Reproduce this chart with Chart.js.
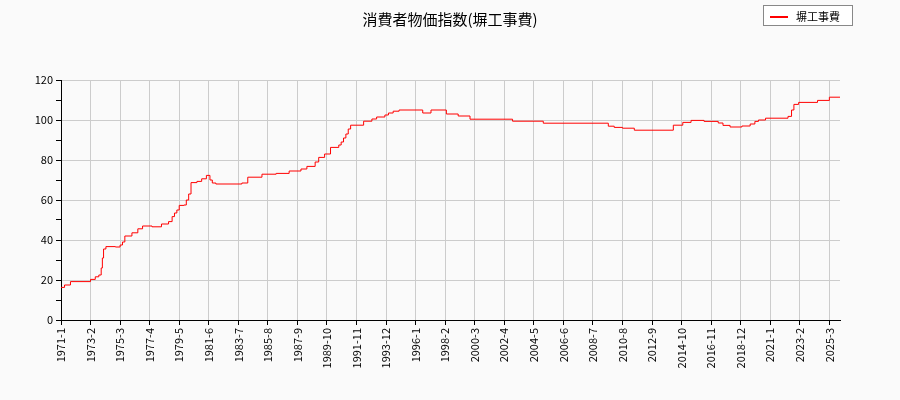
<!DOCTYPE html>
<html>
<head>
<meta charset="utf-8">
<script src="https://cdn.jsdelivr.net/npm/chart.js@4"></script>
<style>
body { margin: 0; background: #fafafa; font-family: "Noto Sans CJK JP", sans-serif; }
#wrap { position: relative; width: 900px; height: 400px; }
#title { position: absolute; top: 8px; left: 0; width: 900px; text-align: center; font-size: 15px; color: #000; }
#legend { position: absolute; top: 5px; left: 763px; width: 90px; height: 21px; border: 1px solid #888; background: #fff;
  font-size: 11px; line-height: 21px; box-sizing: border-box; }
#legend span.ln { position: absolute; left: 6px; top: 10px; width: 18px; height: 2px; background: #ff0000; }
#legend span.tx { position: absolute; left: 32px; }
</style>
</head>
<body>
<div id="wrap">
  <canvas id="chart" width="900" height="400"></canvas>
  <div id="title">消費者物価指数(塀工事費)</div>
  <div id="legend"><span class="ln"></span><span class="tx">塀工事費</span></div>
</div>
<script>
// 月番号 (0 = 1971-1) と値の変化点
const startYear = 1971;
const lastMonth = 659;
const changeMonths = [0, 3, 8, 25, 29, 32, 34, 35, 36, 38, 46, 50, 52, 54, 60, 65, 69, 77, 85, 91, 94, 96, 98, 100, 104, 106, 108, 110, 115, 119, 123, 126, 128, 131, 153, 158, 170, 182, 193, 203, 208, 215, 218, 223, 228, 235, 237, 239, 241, 243, 245, 256, 263, 267, 274, 277, 281, 286, 306, 313, 326, 336, 346, 382, 408, 463, 468, 475, 485, 518, 526, 533, 544, 556, 560, 566, 576, 583, 587, 590, 596, 615, 618, 620, 624, 640, 650, 659];
const values = [16.3, 17.5, 19.2, 20.3, 21.6, 22.5, 26, 31, 35.5, 36.7, 36.5, 37.5, 39, 42, 43.6, 45.6, 47, 46.6, 48, 49.2, 51.7, 53.5, 55, 57.3, 57.5, 60, 63, 68.7, 69.3, 70.6, 72.3, 70, 68.5, 68, 68.5, 71.4, 72.9, 73.3, 74.5, 75.5, 76.8, 79, 81.3, 83, 86.3, 87.5, 89, 91, 93, 95.5, 97.4, 99.4, 100.5, 101.5, 102.5, 103.5, 104.4, 105, 103.5, 105, 103, 102, 100.4, 99.4, 98.4, 96.9, 96.3, 95.9, 94.9, 97.4, 98.8, 99.8, 99.3, 98.5, 97.3, 96.5, 97, 98, 99.3, 100, 100.9, 101.8, 105, 107.8, 108.8, 109.8, 111.4, 111.4];
const xTicks = [0, 25, 50, 75, 100, 125, 150, 175, 200, 225, 250, 275, 300, 325, 350, 375, 400, 425, 450, 475, 500, 525, 550, 575, 600, 625, 650];

function monthLabel(i) {
    return (startYear + Math.floor(i / 12)) + '-' + (i % 12 + 1);
}

const points = changeMonths.map((m, i) => ({ x: m, y: values[i] }));
const font = { family: '"Noto Sans CJK JP", sans-serif', size: 11 };

new Chart(document.getElementById('chart'), {
    type: 'line',
    data: {
        datasets: [{
            label: '塀工事費',
            data: points,
            borderColor: '#ff0000',
            borderWidth: 1,
            pointRadius: 0,
            stepped: true,
            fill: false
        }]
    },
    options: {
        responsive: false,
        animation: false,
        layout: { padding: { top: 80, right: 60, left: 0, bottom: 0 } },
        plugins: { legend: { display: false }, tooltip: { enabled: false } },
        scales: {
            x: {
                type: 'linear',
                min: 0,
                max: lastMonth,
                afterBuildTicks: s => { s.ticks = xTicks.map(v => ({ value: v })); },
                afterFit: s => { s.height = 80; },
                ticks: {
                    color: '#000', font: font, maxRotation: 90, minRotation: 90, autoSkip: false,
                    callback: v => monthLabel(v)
                },
                grid: { color: '#cccccc', tickColor: '#000', tickLength: 5 },
                border: { color: '#000' }
            },
            y: {
                min: 0,
                max: 120,
                afterFit: s => { s.width = 61; },
                ticks: {
                    stepSize: 10, color: '#000', font: font,
                    callback: v => (v % 20 === 0 ? v : '')
                },
                grid: {
                    color: c => (c.tick && c.tick.value % 20 === 0 ? '#cccccc' : 'rgba(0,0,0,0)'),
                    tickColor: '#000', tickLength: 5
                },
                border: { color: '#000' }
            }
        }
    }
});
</script>
</body>
</html>
